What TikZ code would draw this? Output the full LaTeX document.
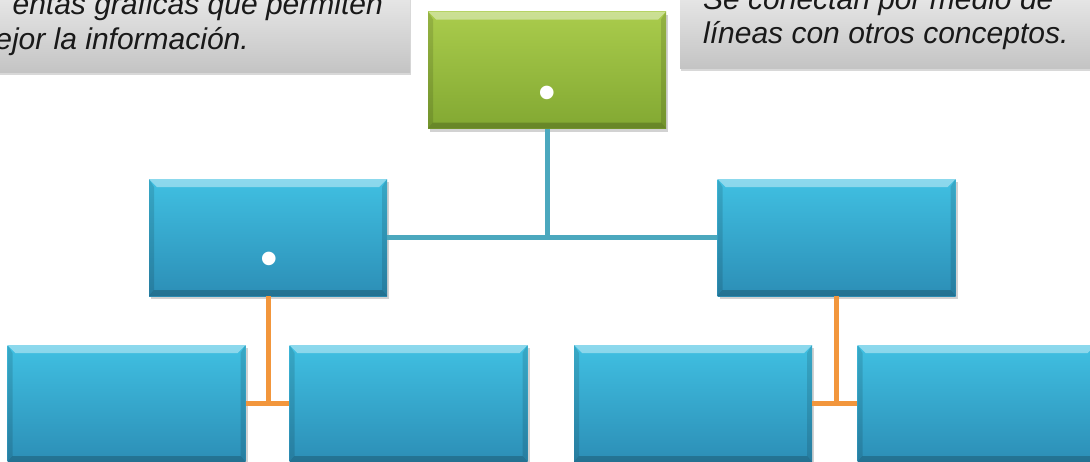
\documentclass[tikz,border=0pt]{standalone}
\usepackage{fontspec}
\setmainfont{Liberation Sans}
\usetikzlibrary{shadows}
\definecolor{bluetop}{RGB}{64,192,226}
\definecolor{bluebot}{RGB}{44,142,182}
\definecolor{greentop}{RGB}{170,204,76}
\definecolor{greenbot}{RGB}{130,168,50}
\definecolor{graytop}{RGB}{242,242,242}
\definecolor{graybot}{RGB}{196,196,196}
\definecolor{tealline}{RGB}{75,168,190}
\definecolor{orangeline}{RGB}{242,150,60}
\definecolor{txt}{RGB}{25,25,25}
\tikzset{
  bevel/.style={path picture={
    \fill[white,opacity=0.4] (path picture bounding box.north west) -- (path picture bounding box.north east)
      -- ([xshift=-8pt,yshift=-8pt]path picture bounding box.north east) -- ([xshift=8pt,yshift=-8pt]path picture bounding box.north west) -- cycle;
    \fill[black,opacity=0.12] (path picture bounding box.north east) -- (path picture bounding box.south east)
      -- ([xshift=-5pt,yshift=6pt]path picture bounding box.south east) -- ([xshift=-5pt,yshift=-8pt]path picture bounding box.north east) -- cycle;
    \fill[black,opacity=0.12] (path picture bounding box.north west) -- (path picture bounding box.south west)
      -- ([xshift=5pt,yshift=6pt]path picture bounding box.south west) -- ([xshift=5pt,yshift=-8pt]path picture bounding box.north west) -- cycle;
    \fill[black,opacity=0.2] (path picture bounding box.south west) -- (path picture bounding box.south east)
      -- ([xshift=-5pt,yshift=6pt]path picture bounding box.south east) -- ([xshift=5pt,yshift=6pt]path picture bounding box.south west) -- cycle;
  }},
  box/.style={rectangle, minimum width=238pt, minimum height=117pt, inner sep=0pt, bevel,
    drop shadow={shadow xshift=2pt, shadow yshift=-3pt, opacity=0.35}},
  bluebox/.style={box, top color=bluetop, bottom color=bluebot},
  greenbox/.style={box, top color=greentop, bottom color=greenbot},
  graybox/.style={rectangle, inner sep=0pt, top color=graytop, bottom color=graybot,
    drop shadow={shadow xshift=1pt, shadow yshift=-3pt, opacity=0.3}},
  txtstyle/.style={font=\fontsize{30}{34}\selectfont\itshape, text=txt, inner sep=0pt},
  dotstyle/.style={font=\fontsize{50}{50}\selectfont, text=white, inner sep=0pt, anchor=center},
  tealconn/.style={draw=tealline, line width=5pt},
  orangeconn/.style={draw=orangeline, line width=5pt},
}
\begin{document}
\begin{tikzpicture}[x=1pt,y=-1pt]
\useasboundingbox (0,0) rectangle (1090,461);
\clip (0,0) rectangle (1090,461);
\fill[white] (0,0) rectangle (1090,461);

% gray text boxes
\node[graybox, minimum width=430pt, minimum height=100pt] (gl) at (195,22) {};
\node[graybox, minimum width=430pt, minimum height=96pt] (gr) at (895,20) {};
\node[txtstyle, anchor=base east] (tl1) at (383,14) {entas gráficas que permiten};
\node[txtstyle, anchor=base east] (tl2) at (249,49) {ejor la información.};
\node[txtstyle, anchor=base west] (tr1) at (703,9) {Se conectan por medio de};
\node[txtstyle, anchor=base west] (tr2) at (703,43) {líneas con otros conceptos.};

% boxes
\node[greenbox] (G) at (547,70) {};
\node[bluebox] (L) at (268,237.5) {};
\node[bluebox] (R) at (836.5,237.5) {};
\node[bluebox] (B1) at (126.5,403.5) {};
\node[bluebox] (B2) at (408.5,403.5) {};
\node[bluebox] (B3) at (693,403.5) {};
\node[bluebox] (B4) at (976.5,403.5) {};

% connectors
\draw[tealconn] (G.south) -- (G.south |- L.east);
\draw[tealconn] (L.east) -- (R.west);
\draw[orangeconn] (L.south) -- (L.south |- B1.east);
\draw[orangeconn] (B1.east) -- (B2.west);
\draw[orangeconn] (R.south) -- (R.south |- B3.east);
\draw[orangeconn] (B3.east) -- (B4.west);

\node[dotstyle] (d1) at (547,98) {•};
\node[dotstyle] (d2) at (269,264) {•};
\end{tikzpicture}
\end{document}
